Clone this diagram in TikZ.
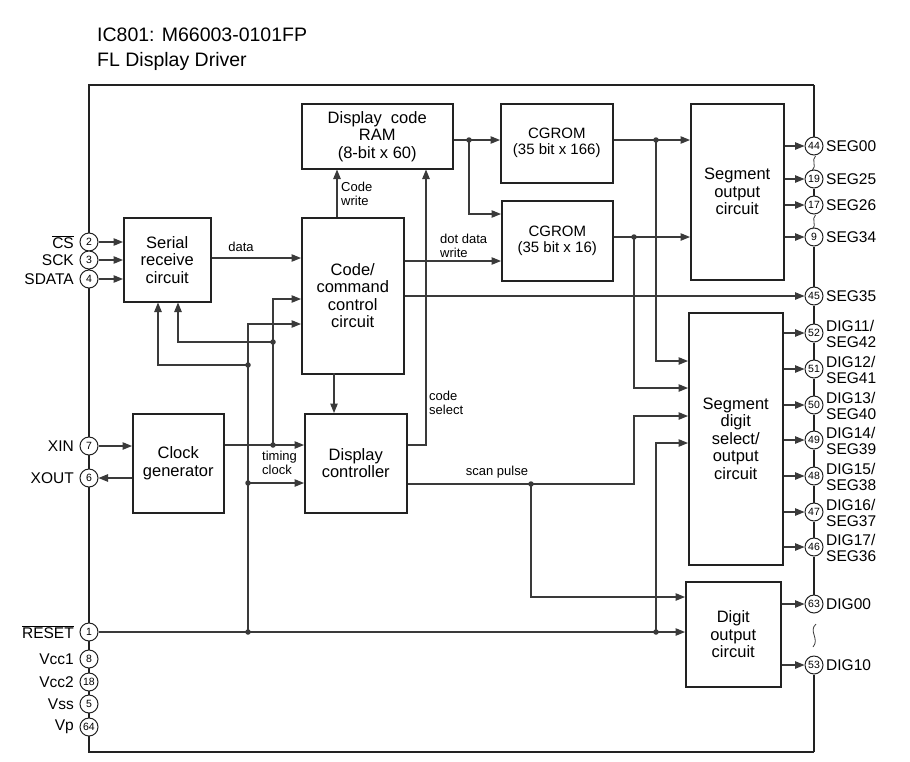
\documentclass[tikz,border=0pt]{standalone}
\usepackage{fontspec}
\setmainfont{Liberation Sans}
\usetikzlibrary{arrows.meta,calc}
\definecolor{ln}{HTML}{3A3A3A}
\definecolor{bx}{HTML}{222222}
\begin{document}
\begin{tikzpicture}[x=1pt,y=-1pt,
 blk/.style={draw=bx, line width=1.5pt, inner sep=0pt, align=center, anchor=north west, font=\fontsize{16.5}{17.5}\selectfont},
 pinc/.style={circle, draw=bx, line width=1pt, fill=white, minimum size=18pt, inner sep=0pt, font=\fontsize{10.5}{10.5}\selectfont},
 border/.style={draw=bx, line width=1.5pt},
 conn/.style={draw=ln, line width=1.1pt},
 arr/.style={conn, -{Triangle[length=9.5pt,width=7.5pt]}},
 jdot/.style={circle, fill=ln, inner sep=0pt, minimum size=5.5pt},
 lbl/.style={inner sep=1pt, font=\fontsize{15.5}{15.5}\selectfont},
 sml/.style={inner sep=0pt, align=left, font=\fontsize{13}{13.5}\selectfont},
 tilde/.style={draw=ln, line width=0.8pt}]
\useasboundingbox (0,0) rectangle (910,761);
% title
\node[anchor=west, inner sep=0pt, font=\fontsize{19.5}{20}\selectfont] (t1) at (97,35) {IC801: M66003-0101FP};
\node[anchor=west, inner sep=0pt, font=\fontsize{19.5}{20}\selectfont] (t2) at (97,61) {FL Display Driver};
% outer border corners
\coordinate (tl) at (89,85);
\coordinate (tr) at (814,85);
\coordinate (bl) at (89,752);
\coordinate (br) at (814,752);
\draw[border] (tr) -- (tl) -- (bl) -- (br);
% blocks
\node[blk, minimum width=87pt, minimum height=84pt] (serial) at (123,217) {Serial\\receive\\circuit};
\node[blk, minimum width=91pt, minimum height=99pt] (clock) at (132,413) {Clock\\generator};
\node[blk, minimum width=102pt, minimum height=156pt] (code) at (301,217) {Code/\\command\\control\\circuit};
\node[blk, minimum width=102pt, minimum height=99pt] (dctl) at (304,413) {Display\\controller};
\node[blk, minimum width=151pt, minimum height=65pt] (ram) at (301,103) {Display~ code\\RAM\\(8-bit x 60)};
\node[blk, minimum width=112pt, minimum height=79pt, font=\fontsize{15}{16}\selectfont] (cg1) at (500,103) {CGROM\\(35 bit x 166)};
\node[blk, minimum width=111pt, minimum height=80pt, font=\fontsize{15}{16}\selectfont] (cg2) at (501,200) {CGROM\\(35 bit x 16)};
\node[blk, minimum width=93pt, minimum height=176pt] (segout) at (690,103) {Segment\\output\\circuit};
\node[blk, minimum width=94pt, minimum height=252pt] (segdig) at (688,312) {Segment\\digit\\select/\\output\\circuit};
\node[blk, minimum width=95pt, minimum height=105pt] (digout) at (685,581) {Digit\\output\\circuit};
% left pins
\foreach \n/\y in {2/242,3/260,4/279,7/446,6/478,1/632,8/659,18/682,5/704,64/727}
  \node[pinc] (p\n) at (89,\y) {\n};
\node[lbl, anchor=east] (l2) at (75,242) {$\overline{\mbox{CS}}$};
\node[lbl, anchor=east] (l3) at (75,260) {SCK};
\node[lbl, anchor=east] (l4) at (75,279) {SDATA};
\node[lbl, anchor=east] (l7) at (75,446) {XIN};
\node[lbl, anchor=east] (l6) at (75,478) {XOUT};
\node[lbl, anchor=east] (l1) at (75,632) {$\overline{\mbox{RESET}}$};
\node[lbl, anchor=east] (l8) at (75,659) {Vcc1};
\node[lbl, anchor=east] (l18) at (75,682) {Vcc2};
\node[lbl, anchor=east] (l5) at (75,704) {Vss};
\node[lbl, anchor=east] (l64) at (75,727) {Vp};
% right pins
\foreach \n/\y in {44/146,19/179,17/205,9/237,45/296,52/333,51/369,50/405,49/440,48/476,47/512,46/547,63/604,53/665}
  \node[pinc] (p\n) at (814,\y) {\n};
\node[lbl, anchor=west] (r44) at (825,146) {SEG00};
\node[lbl, anchor=west] (r19) at (825,179) {SEG25};
\node[lbl, anchor=west] (r17) at (825,205) {SEG26};
\node[lbl, anchor=west] (r9) at (825,237) {SEG34};
\node[lbl, anchor=west] (r45) at (825,296) {SEG35};
\node[lbl, anchor=west, align=left] (r52) at (825,334) {DIG11/\\SEG42};
\node[lbl, anchor=west, align=left] (r51) at (825,370) {DIG12/\\SEG41};
\node[lbl, anchor=west, align=left] (r50) at (825,406) {DIG13/\\SEG40};
\node[lbl, anchor=west, align=left] (r49) at (825,441) {DIG14/\\SEG39};
\node[lbl, anchor=west, align=left] (r48) at (825,477) {DIG15/\\SEG38};
\node[lbl, anchor=west, align=left] (r47) at (825,513) {DIG16/\\SEG37};
\node[lbl, anchor=west, align=left] (r46) at (825,548) {DIG17/\\SEG36};
\node[lbl, anchor=west] (r63) at (825,604) {DIG00};
\node[lbl, anchor=west] (r53) at (825,665) {DIG10};
% right border segments
\draw[border] (tr) -- (p44);
\draw[border] (p19) -- (p17);
\draw[border] (p9) -- (p45) -- (p52) -- (p51) -- (p50) -- (p49) -- (p48) -- (p47) -- (p46) -- (p63);
\draw[border] (p53) -- (br);
\draw[tilde] (815.5,156) .. controls (811,160) and (817,166) .. (812.5,170);
\draw[tilde] (815.5,215) .. controls (811,219) and (817,225) .. (812.5,229);
\draw[tilde] (816,624) .. controls (808,631) and (820,639) .. (813,647);
% junction coordinates
\coordinate (a1) at (273,299);
\coordinate (a2) at (273,342);
\coordinate (a3) at (273,445);
\coordinate (b1) at (248,324);
\coordinate (b2) at (248,365);
\coordinate (b3) at (248,483);
\coordinate (b4) at (248,632);
\coordinate (c1) at (178,342);
\coordinate (c2) at (158,365);
\coordinate (k1) at (334,373);
\coordinate (k2) at (337,217);
\coordinate (k3) at (426,445);
\coordinate (d1) at (469,140);
\coordinate (d2) at (469,214);
\coordinate (e1) at (420,261);
\coordinate (f1) at (656,140);
\coordinate (f2) at (656,361);
\coordinate (g1) at (634,237);
\coordinate (g2) at (634,388);
\coordinate (h1) at (531,484);
\coordinate (h2) at (634,484);
\coordinate (h3) at (634,416);
\coordinate (h4) at (531,597);
\coordinate (q1) at (656,632);
\coordinate (q2) at (656,443);
% serial inputs
\foreach \n in {2,3,4} \draw[arr] (p\n) -- (serial.west |- p\n);
\draw[arr] (serial.east |- 0,258) -- (code.west |- 0,258);
\node[sml] (ldata) at (241,247) {data};
% feedback / clock lines
\draw[arr] (a3) -- (a1) -- (code.west |- a1);
\draw[arr] (b4) -- (b1) -- (code.west |- b1);
\draw[arr] (a2) -- (c1) -- (serial.south -| c1);
\draw[arr] (b2) -- (c2) -- (serial.south -| c2);
\draw[arr] (p7) -- (clock.west |- p7);
\draw[arr] (clock.west |- p6) -- (p6);
\draw[arr] (clock.east |- a3) -- (dctl.west |- a3);
\draw[arr] (b3) -- (dctl.west |- b3);
\node[sml, anchor=west] (ltim) at (262,463) {timing\\clock};
% reset
\draw[arr] (p1) -- (digout.west |- p1);
\draw[arr] (q1) -- (q2) -- (segdig.west |- q2);
% code block
\draw[arr] (k1) -- (dctl.north -| k1);
\draw[arr] (k2) -- (ram.south -| k2);
\node[sml, anchor=west] (lcw) at (341,194) {Code\\write};
\draw[arr] (dctl.east |- k3) -- (k3) -- (ram.south -| k3);
\node[sml, anchor=west] (lcs) at (429,403) {code\\select};
\draw[arr] (ram.east |- d1) -- (cg1.west |- d1);
\draw[arr] (d1) -- (d2) -- (cg2.west |- d2);
\draw[arr] (code.east |- e1) -- (cg2.west |- e1);
\node[sml, anchor=west] (ldd) at (440,246) {dot data\\write};
\draw[arr] (code.east |- p45) -- (p45);
% CGROM outputs
\draw[arr] (cg1.east |- f1) -- (segout.west |- f1);
\draw[arr] (f1) -- (f2) -- (segdig.west |- f2);
\draw[arr] (cg2.east |- g1) -- (segout.west |- g1);
\draw[arr] (g1) -- (g2) -- (segdig.west |- g2);
% scan pulse
\draw[arr] (dctl.east |- h1) -- (h2) -- (h3) -- (segdig.west |- h3);
\draw[arr] (h1) -- (h4) -- (digout.west |- h4);
\node[sml] (lsp) at (497,472) {scan pulse};
% outputs
\foreach \n in {44,19,17,9} \draw[arr] (segout.east |- p\n) -- (p\n);
\foreach \n in {52,51,50,49,48,47,46} \draw[arr] (segdig.east |- p\n) -- (p\n);
\foreach \n in {63,53} \draw[arr] (digout.east |- p\n) -- (p\n);
% junction dots
\foreach \c in {a2,a3,b2,b3,b4,d1,f1,g1,h1,q1} \node[jdot] at (\c) {};
\end{tikzpicture}
\end{document}
